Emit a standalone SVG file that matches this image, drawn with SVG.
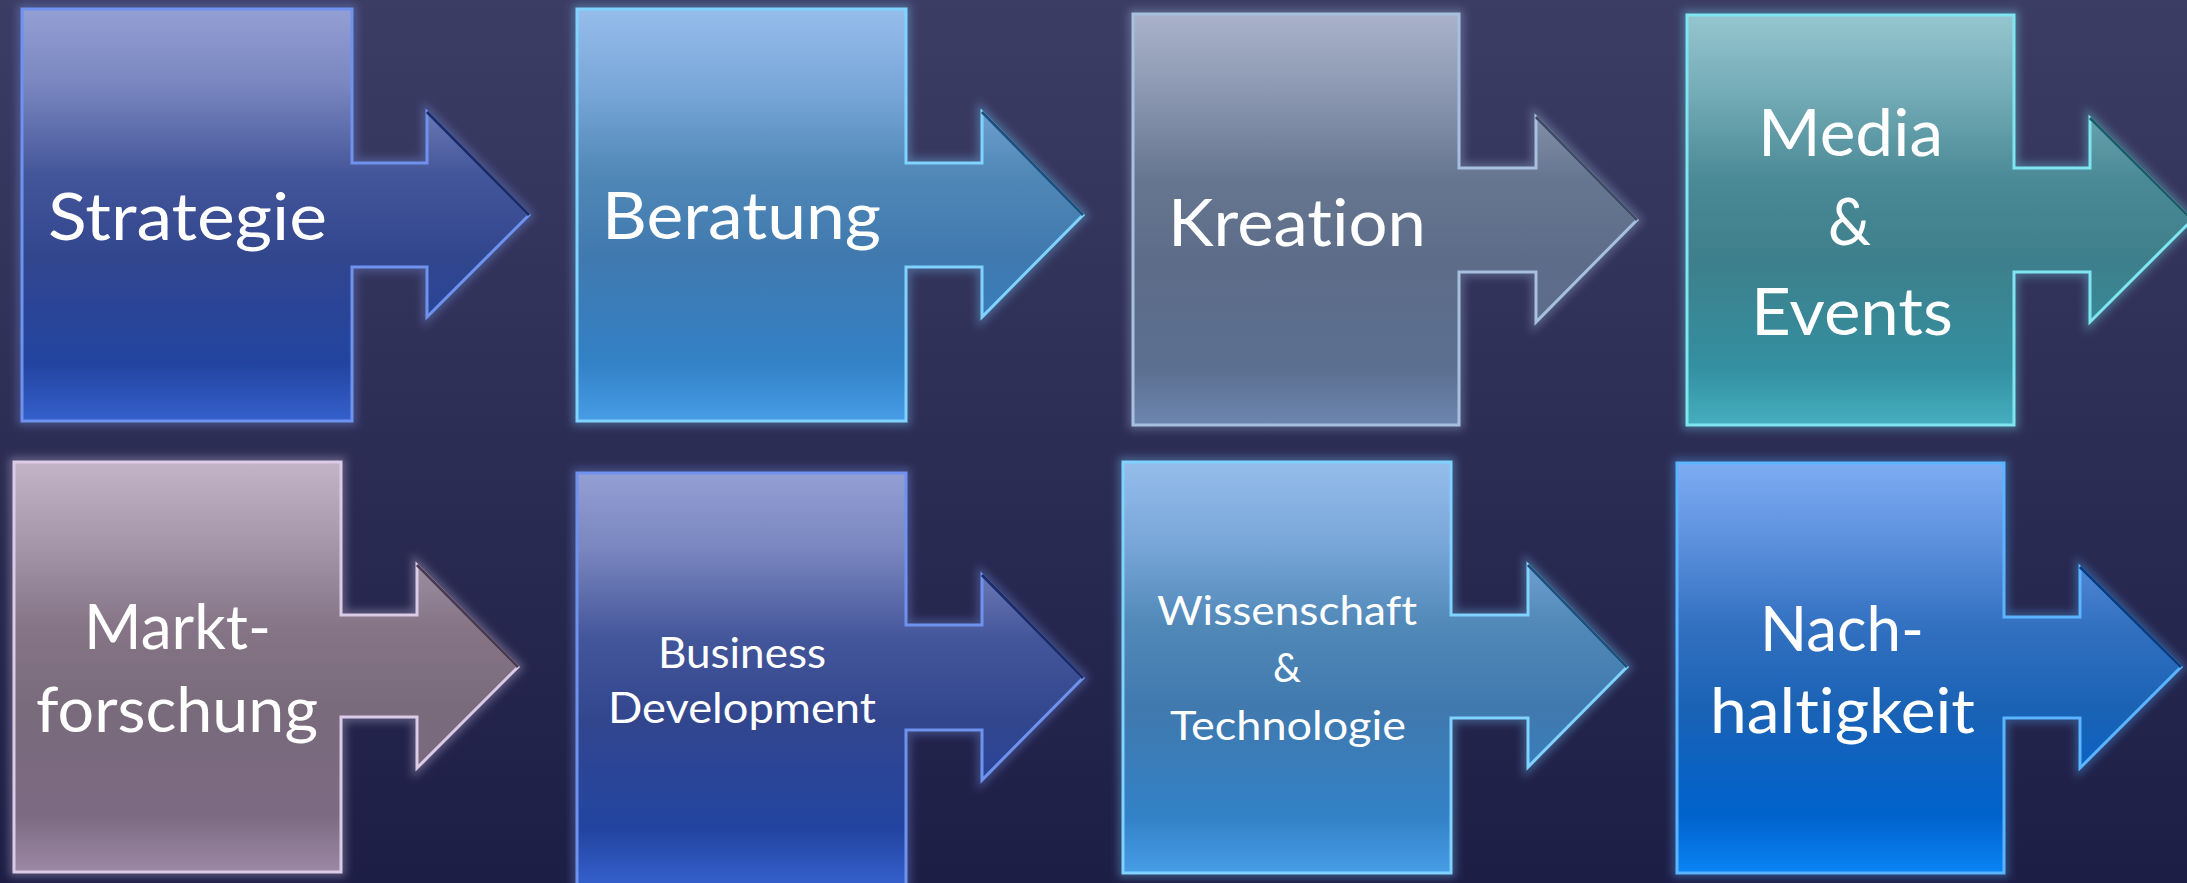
<svg xmlns="http://www.w3.org/2000/svg" width="2187" height="883" viewBox="0 0 2187 883">
<defs>
<linearGradient id="bg" x1="0" y1="0" x2="0" y2="1">
<stop offset="0" stop-color="#3c3d65"/><stop offset="1" stop-color="#1d1e46"/>
</linearGradient>
<linearGradient id="gBlueDark" x1="0" y1="0" x2="0" y2="1">
<stop offset="0" stop-color="#939fd4"/><stop offset="0.18" stop-color="#7a87c0"/><stop offset="0.4" stop-color="#44569a"/><stop offset="0.6" stop-color="#32468e"/><stop offset="0.86" stop-color="#2244a0"/><stop offset="1" stop-color="#3560cc"/>
</linearGradient>
<linearGradient id="gBlueLight" x1="0" y1="0" x2="0" y2="1">
<stop offset="0" stop-color="#95bdeb"/><stop offset="0.2" stop-color="#78a6d8"/><stop offset="0.4" stop-color="#5088b8"/><stop offset="0.6" stop-color="#4079ae"/><stop offset="0.86" stop-color="#3381c6"/><stop offset="1" stop-color="#469de6"/>
</linearGradient>
<linearGradient id="gGrey" x1="0" y1="0" x2="0" y2="1">
<stop offset="0" stop-color="#a9b2ca"/><stop offset="0.2" stop-color="#8a96b0"/><stop offset="0.4" stop-color="#677690"/><stop offset="0.6" stop-color="#5d6c88"/><stop offset="0.86" stop-color="#5b6f90"/><stop offset="1" stop-color="#6d86ae"/>
</linearGradient>
<linearGradient id="gTeal" x1="0" y1="0" x2="0" y2="1">
<stop offset="0" stop-color="#95c6cf"/><stop offset="0.2" stop-color="#72aab5"/><stop offset="0.4" stop-color="#4a8a96"/><stop offset="0.6" stop-color="#3e7f8c"/><stop offset="0.86" stop-color="#3390a0"/><stop offset="1" stop-color="#45aec0"/>
</linearGradient>
<linearGradient id="gMauve" x1="0" y1="0" x2="0" y2="1">
<stop offset="0" stop-color="#c3b4c8"/><stop offset="0.2" stop-color="#a696aa"/><stop offset="0.4" stop-color="#857587"/><stop offset="0.6" stop-color="#796a7c"/><stop offset="0.86" stop-color="#7c6a82"/><stop offset="1" stop-color="#9c88a4"/>
</linearGradient>
<linearGradient id="gBright" x1="0" y1="0" x2="0" y2="1">
<stop offset="0" stop-color="#7dacf2"/><stop offset="0.2" stop-color="#5a8fdc"/><stop offset="0.4" stop-color="#3270c0"/><stop offset="0.6" stop-color="#1a62b5"/><stop offset="0.86" stop-color="#0062cc"/><stop offset="1" stop-color="#0a84f5"/>
</linearGradient>
<filter id="glow" x="-10%" y="-10%" width="120%" height="120%">
<feGaussianBlur stdDeviation="4"/>
</filter>
</defs>
<style>
.halo{fill:none;stroke-width:9;opacity:0.35;filter:url(#glow)}
.shape{stroke-width:3;stroke-linejoin:miter}
.dark{fill:none;stroke-width:3}
.lbl{font-family:Lato,"Open Sans",sans-serif;font-weight:400;font-variant-ligatures:none;fill:#ffffff}
.big{font-size:66px}
.mid{font-size:62px}
.sm{font-size:43px}
.xs{font-size:40px}
</style>
<rect x="0" y="0" width="2187" height="883" fill="url(#bg)"/>
<g id="connectors"/>
<g id="node-strategie">
<path class="halo" stroke="#7e9cf0" d="M22,9 H352 V163 H427 V112 L529,215 L427,317 V267 H352 V421 H22 Z"/>
<path class="shape" fill="url(#gBlueDark)" stroke="#6f92ee" d="M22,9 H352 V163 H427 V112 L529,215 L427,317 V267 H352 V421 H22 Z"/>
<path class="dark" stroke="#1c2a66" d="M427,112 L529,215"/>
<text class="lbl big" x="48" y="240" textLength="279" lengthAdjust="spacingAndGlyphs">Strategie</text>
</g>
<g id="node-beratung">
<path class="halo" stroke="#7fd0ff" d="M577,9 H906 V163 H982 V112 L1083,215 L982,317 V267 H906 V421 H577 Z"/>
<path class="shape" fill="url(#gBlueLight)" stroke="#80d2ff" d="M577,9 H906 V163 H982 V112 L1083,215 L982,317 V267 H906 V421 H577 Z"/>
<path class="dark" stroke="#1f4f7a" d="M982,112 L1083,215"/>
<text class="lbl big" x="602" y="239" textLength="279" lengthAdjust="spacingAndGlyphs">Beratung</text>
</g>
<g id="node-kreation">
<path class="halo" stroke="#a8c0e0" d="M1133,14 H1459 V168 H1536 V117 L1637,220 L1536,322 V272 H1459 V425 H1133 Z"/>
<path class="shape" fill="url(#gGrey)" stroke="#a8c0e0" d="M1133,14 H1459 V168 H1536 V117 L1637,220 L1536,322 V272 H1459 V425 H1133 Z"/>
<path class="dark" stroke="#3e4a66" d="M1536,117 L1637,220"/>
<text class="lbl big" x="1168" y="246" textLength="258" lengthAdjust="spacingAndGlyphs">Kreation</text>
</g>
<g id="node-media">
<path class="halo" stroke="#7ee6f0" d="M1687,15 H2014 V168 H2090 V118 L2192,220 L2090,322 V272 H2014 V425 H1687 Z"/>
<path class="shape" fill="url(#gTeal)" stroke="#7ee6f0" d="M1687,15 H2014 V168 H2090 V118 L2192,220 L2090,322 V272 H2014 V425 H1687 Z"/>
<path class="dark" stroke="#1f5a66" d="M2090,118 L2192,220"/>
<text class="lbl big" x="1758" y="156" textLength="185" lengthAdjust="spacingAndGlyphs">Media</text>
<text class="lbl big" x="1828" y="245" textLength="43" lengthAdjust="spacingAndGlyphs">&amp;</text>
<text class="lbl big" x="1751" y="335" textLength="202" lengthAdjust="spacingAndGlyphs">Events</text>
</g>
<g id="node-marktforschung">
<path class="halo" stroke="#dccbe6" d="M14,462 H341 V615 H417 V565 L518,667 L417,768 V717 H341 V872 H14 Z"/>
<path class="shape" fill="url(#gMauve)" stroke="#dccbe6" d="M14,462 H341 V615 H417 V565 L518,667 L417,768 V717 H341 V872 H14 Z"/>
<path class="dark" stroke="#4a3a50" d="M417,565 L518,667"/>
<text class="lbl mid" x="84" y="649" textLength="187" lengthAdjust="spacingAndGlyphs">Markt-</text>
<text class="lbl mid" x="36" y="732" textLength="282" lengthAdjust="spacingAndGlyphs">forschung</text>
</g>
<g id="node-business">
<path class="halo" stroke="#7e9cf0" d="M577,473 H906 V625 H982 V575 L1083,678 L982,780 V730 H906 V886 H577 Z"/>
<path class="shape" fill="url(#gBlueDark)" stroke="#6f92ee" d="M577,473 H906 V625 H982 V575 L1083,678 L982,780 V730 H906 V886 H577 Z"/>
<path class="dark" stroke="#1c2a66" d="M982,575 L1083,678"/>
<text class="lbl sm" x="658" y="668" textLength="168" lengthAdjust="spacingAndGlyphs">Business</text>
<text class="lbl sm" x="608" y="723" textLength="268" lengthAdjust="spacingAndGlyphs">Development</text>
</g>
<g id="node-wissenschaft">
<path class="halo" stroke="#7fd0ff" d="M1123,462 H1451 V615 H1528 V565 L1627,667 L1528,767 V718 H1451 V873 H1123 Z"/>
<path class="shape" fill="url(#gBlueLight)" stroke="#80d2ff" d="M1123,462 H1451 V615 H1528 V565 L1627,667 L1528,767 V718 H1451 V873 H1123 Z"/>
<path class="dark" stroke="#1f4f7a" d="M1528,565 L1627,667"/>
<text class="lbl xs" x="1157" y="625" textLength="260" lengthAdjust="spacingAndGlyphs">Wissenschaft</text>
<text class="lbl xs" x="1273" y="682" textLength="28" lengthAdjust="spacingAndGlyphs">&amp;</text>
<text class="lbl xs" x="1170" y="740" textLength="236" lengthAdjust="spacingAndGlyphs">Technologie</text>
</g>
<g id="node-nachhaltigkeit">
<path class="halo" stroke="#5ab4ff" d="M1677,463 H2004 V617 H2080 V567 L2181,667 L2080,768 V718 H2004 V873 H1677 Z"/>
<path class="shape" fill="url(#gBright)" stroke="#5ab4ff" d="M1677,463 H2004 V617 H2080 V567 L2181,667 L2080,768 V718 H2004 V873 H1677 Z"/>
<path class="dark" stroke="#0a3a80" d="M2080,567 L2181,667"/>
<text class="lbl mid" x="1760" y="651" textLength="164" lengthAdjust="spacingAndGlyphs">Nach-</text>
<text class="lbl mid" x="1710" y="733" textLength="265" lengthAdjust="spacingAndGlyphs">haltigkeit</text>
</g>
</svg>
